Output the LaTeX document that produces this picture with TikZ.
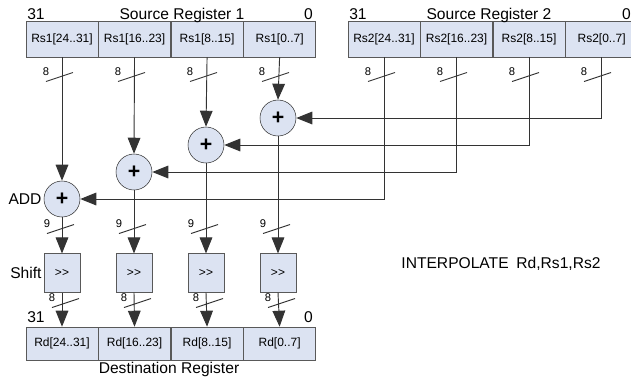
\documentclass[tikz,border=0pt]{standalone}
\usepackage{fontspec}
\setmainfont{Liberation Sans}
\usepackage{tikz}
\usetikzlibrary{arrows.meta,positioning}
\usepackage{xcolor}
\definecolor{regfill}{RGB}{220,227,242}

\begin{document}
\begin{tikzpicture}[
    x=0.75pt, y=-0.75pt,
    >={Triangle[length=12pt,width=9.5pt]},
    reg/.style={draw=black!65, fill=regfill, minimum width=54pt, minimum height=27pt, inner sep=0pt, font=\fontsize{9}{10}\selectfont},
    dst/.style={reg, minimum height=24.75pt},
    adder/.style={circle, draw=black!80, fill=regfill, minimum size=27pt, inner sep=0pt, font=\bfseries\fontsize{16}{16}\selectfont},
    shifter/.style={draw=black!65, fill=regfill, minimum width=27pt, minimum height=29pt, inner sep=0pt, font=\fontsize{9}{10}\selectfont},
    title/.style={font=\fontsize{11.7}{13}\selectfont, inner sep=0pt, anchor=base},
    lbl/.style={font=\fontsize{11.7}{13}\selectfont, inner sep=1pt},
    wire/.style={draw=black!80, line width=0.7pt},
    buslabel/.style={font=\fontsize{8.4}{9}\selectfont, inner sep=0pt},
    pics/bus/.style={code={
        \draw[wire] (-13.5,4.5) -- (13.5,-4.5);
        \node[buslabel] at (-13.5,-5.5) {#1};
    }}
]
    \useasboundingbox (0,0) rectangle (631,383);
    \clip (0,0) rectangle (631,383);

    % Source register 1
    \node[reg] (rs1d) at (62,39) {Rs1[24..31]};
    \node[reg, right=0pt of rs1d] (rs1c) {Rs1[16..23]};
    \node[reg, right=0pt of rs1c] (rs1b) {Rs1[8..15]};
    \node[reg, right=0pt of rs1b] (rs1a) {Rs1[0..7]};
    \node[title] at (182,19) {Source Register 1};
    \node[title, anchor=base west] at (27,19) {31};
    \node[title, anchor=base east] at (313,19) {0};

    % Source register 2
    \node[reg] (rs2d) at (384,39) {Rs2[24..31]};
    \node[reg, right=0pt of rs2d] (rs2c) {Rs2[16..23]};
    \node[reg, right=0pt of rs2c] (rs2b) {Rs2[8..15]};
    \node[reg, right=0pt of rs2b] (rs2a) {Rs2[0..7]};
    \node[title] at (489,19) {Source Register 2};
    \node[title, anchor=base west] at (349,19) {31};
    \node[title, anchor=base east] at (631,19) {0};

    % Adders - staircase
    \node[adder] (add0) at (278,118) {+};
    \node[adder] (add1) at (206,145) {+};
    \node[adder] (add2) at (134,172) {+};
    \node[adder] (add3) at (62,199) {+};
    \node[lbl, left=0.5pt of add3] {ADD};

    % Shifters
    \node[shifter] (sh3) at (62,273) {>{}>};
    \node[shifter] (sh2) at (134,273) {>{}>};
    \node[shifter] (sh1) at (206,273) {>{}>};
    \node[shifter] (sh0) at (278,273) {>{}>};
    \node[lbl, left=0.5pt of sh3] {Shift};

    % Destination register
    \node[dst] (rdd) at (62,343.5) {Rd[24..31]};
    \node[dst, right=0pt of rdd] (rdc) {Rd[16..23]};
    \node[dst, right=0pt of rdc] (rdb) {Rd[8..15]};
    \node[dst, right=0pt of rdb] (rda) {Rd[0..7]};
    \node[title, anchor=base west] at (27,322) {31};
    \node[title, anchor=base east] at (313,322) {0};
    \node[title] at (169,373) {Destination Register};

    % Rs1 bytes into the adders
    \draw[wire, ->] (rs1d.south) -- (add3.north);
    \draw[wire, ->] (rs1c.south) -- (add2.north);
    \draw[wire, ->] (rs1b.south) -- (add1.north);
    \draw[wire, ->] (rs1a.south) -- (add0.north);

    % Rs2 bytes routed across
    \draw[wire, ->] (rs2a.south) |- (add0.east);
    \draw[wire, ->] (rs2b.south) |- (add1.east);
    \draw[wire, ->] (rs2c.south) |- (add2.east);
    \draw[wire, ->] (rs2d.south) |- (add3.east);

    % Sums through the shifters
    \draw[wire, ->] (add3.south) -- (sh3.north);
    \draw[wire, ->] (add2.south) -- (sh2.north);
    \draw[wire, ->] (add1.south) -- (sh1.north);
    \draw[wire, ->] (add0.south) -- (sh0.north);
    \draw[wire, ->] (sh3.south) -- (rdd.north);
    \draw[wire, ->] (sh2.south) -- (rdc.north);
    \draw[wire, ->] (sh1.south) -- (rdb.north);
    \draw[wire, ->] (sh0.south) -- (rda.north);

    % Bus widths
    \pic at (59.5,77) {bus=8};
    \pic at (131.5,77) {bus=8};
    \pic at (203.5,77) {bus=8};
    \pic at (275.5,77) {bus=8};
    \pic at (381.5,77) {bus=8};
    \pic at (453.5,77) {bus=8};
    \pic at (525.5,77) {bus=8};
    \pic at (597.5,77) {bus=8};
    \pic at (60.5,229) {bus=9};
    \pic at (132.5,229) {bus=9};
    \pic at (204.5,229) {bus=9};
    \pic at (276.5,229) {bus=9};
    \pic at (65.5,303) {bus=8};
    \pic at (137.5,303) {bus=8};
    \pic at (209.5,303) {bus=8};
    \pic at (281.5,303) {bus=8};

    \node[lbl] at (501,264) {INTERPOLATE\hspace{0.5em}Rd,Rs1,Rs2};

\end{tikzpicture}
\end{document}
